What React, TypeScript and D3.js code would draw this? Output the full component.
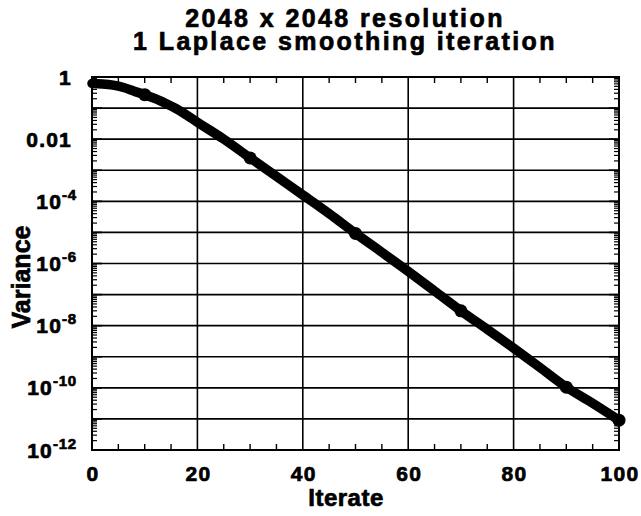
import React from "react";
import * as d3 from "d3";

const titleLines = ["2048 x 2048 resolution", "1 Laplace smoothing iteration"];
const xLabel = "Iterate";
const yLabel = "Variance";

const iterates = [0, 2, 4, 6, 8, 10, 12, 14, 16, 18, 20, 25, 30, 35, 40, 45, 50, 55, 60, 65, 70, 75, 80, 85, 90, 95, 100];
const variance = [
  0.62, 0.6, 0.55, 0.46, 0.35, 0.27, 0.2, 0.14, 0.095, 0.059, 0.035, 0.01, 2.5e-3, 6.3e-4, 1.6e-4, 4.0e-5,
  9.3e-6, 2.3e-6, 5.6e-7, 1.3e-7, 3.0e-8, 7.6e-9, 1.9e-9, 4.5e-10, 1.05e-10, 3.2e-11, 9.1e-12,
];
const markerIterates = [10, 30, 50, 70, 90, 100];

const xTicks = [0, 20, 40, 60, 80, 100];
const xMinorTicks = [5, 10, 15, 25, 30, 35, 45, 50, 55, 65, 70, 75, 85, 90, 95];
const yLabelTicks = [1, 1e-2, 1e-4, 1e-6, 1e-8, 1e-10, 1e-12];
const yLabelTexts = [["1", ""], ["0.01", ""], ["10", "-4"], ["10", "-6"], ["10", "-8"], ["10", "-10"], ["10", "-12"]];
const yDecadeExps = [0, -1, -2, -3, -4, -5, -6, -7, -8, -9, -10, -11, -12];

const W = 641;
const H = 516;
const L = 92, R = 619, T = 77, B = 450;
const FONT = "'Liberation Sans', Arial, Helvetica, sans-serif";

export default function App() {
  const x = d3.scaleLinear().domain([0, 100]).range([L, R]);
  const y = d3.scaleLog().domain([1e-12, 1]).range([B, T]);

  const pts: [number, number][] = iterates.map((it, i) => [it, variance[i]]);
  const line = d3
    .line<[number, number]>()
    .x((d) => x(d[0]))
    .y((d) => y(d[1]))
    .curve(d3.curveMonotoneX);

  const varAt = (it: number) => variance[iterates.indexOf(it)];

  const decades = yDecadeExps.map((e) => Math.pow(10, e));
  const minorY: number[] = [];
  for (let e = -12; e < 0; e++) {
    for (let m = 2; m <= 9; m++) minorY.push(m * Math.pow(10, e));
  }

  const textStroke = { stroke: "#000", strokeWidth: 0.7 };

  return (
    <svg
      width={W}
      height={H}
      style={{ position: "absolute", left: 0, top: 0, background: "#fff" }}
      fontFamily={FONT}
    >
      <rect x={0} y={0} width={W} height={H} fill="#fff" />
      {/* grid */}
      {decades.slice(1, -1).map((d, i) => (
        <line key={"gy" + i} x1={L} x2={R} y1={y(d)} y2={y(d)} stroke="#000" strokeWidth={1.6} />
      ))}
      {xTicks.slice(1, -1).map((t) => (
        <line key={"gx" + t} x1={x(t)} x2={x(t)} y1={T} y2={B} stroke="#000" strokeWidth={1.6} />
      ))}
      {/* minor ticks y */}
      {minorY.map((v, i) => (
        <g key={"my" + i}>
          <line x1={L} x2={L + 5} y1={y(v)} y2={y(v)} stroke="#000" strokeWidth={1.2} />
          <line x1={R} x2={R - 5} y1={y(v)} y2={y(v)} stroke="#000" strokeWidth={1.2} />
        </g>
      ))}
      {decades.map((v, i) => (
        <g key={"My" + i}>
          <line x1={L} x2={L + 10} y1={y(v)} y2={y(v)} stroke="#000" strokeWidth={1.6} />
          <line x1={R} x2={R - 10} y1={y(v)} y2={y(v)} stroke="#000" strokeWidth={1.6} />
        </g>
      ))}
      {/* minor ticks x */}
      {xMinorTicks.map((t) => (
        <g key={"mx" + t}>
          <line x1={x(t)} x2={x(t)} y1={B} y2={B - 6} stroke="#000" strokeWidth={1.4} />
          <line x1={x(t)} x2={x(t)} y1={T} y2={T + 6} stroke="#000" strokeWidth={1.4} />
        </g>
      ))}
      {/* frame */}
      <rect x={L} y={T} width={R - L} height={B - T} fill="none" stroke="#000" strokeWidth={2} />
      {/* curve */}
      <path d={line(pts) || ""} fill="none" stroke="#000" strokeWidth={9.5} strokeLinejoin="round" strokeLinecap="round" />
      {markerIterates.map((it) => (
        <circle key={"m" + it} cx={x(it)} cy={y(varAt(it))} r={6.5} fill="#000" />
      ))}
      {/* x tick labels */}
      {xTicks.map((t) => (
        <text
          key={"xl" + t}
          x={x(t) + 1}
          y={481}
          textAnchor="middle"
          fontSize={21}
          fontWeight="bold"
          letterSpacing={1.3}
          {...textStroke}
        >
          {t}
        </text>
      ))}
      {/* y tick labels */}
      {yLabelTicks.map((v, i) => {
        const [base, sup] = yLabelTexts[i];
        return (
          <text
            key={"yl" + i}
            x={sup ? 77 : 72}
            y={y(v) + 7.5}
            textAnchor="end"
            fontSize={21}
            fontWeight="bold"
            letterSpacing={1.2}
            {...textStroke}
          >
            {base}
            {sup && (
              <tspan fontSize={15} dy={-9} letterSpacing={0.8}>
                {sup}
              </tspan>
            )}
          </text>
        );
      })}
      {/* axis titles */}
      <text x={346} y={506} textAnchor="middle" fontSize={24} fontWeight="bold" letterSpacing={0.5} {...textStroke}>
        {xLabel}
      </text>
      <text
        transform="translate(30,277) rotate(-90)"
        textAnchor="middle"
        fontSize={25}
        fontWeight="bold"
        {...textStroke}
      >
        {yLabel}
      </text>
      {/* title */}
      {titleLines.map((s, i) => (
        <text
          key={"t" + i}
          x={345}
          y={27 + i * 23}
          textAnchor="middle"
          fontSize={25}
          fontWeight="bold"
          letterSpacing={2.4}
          {...textStroke}
        >
          {s}
        </text>
      ))}
    </svg>
  );
}
